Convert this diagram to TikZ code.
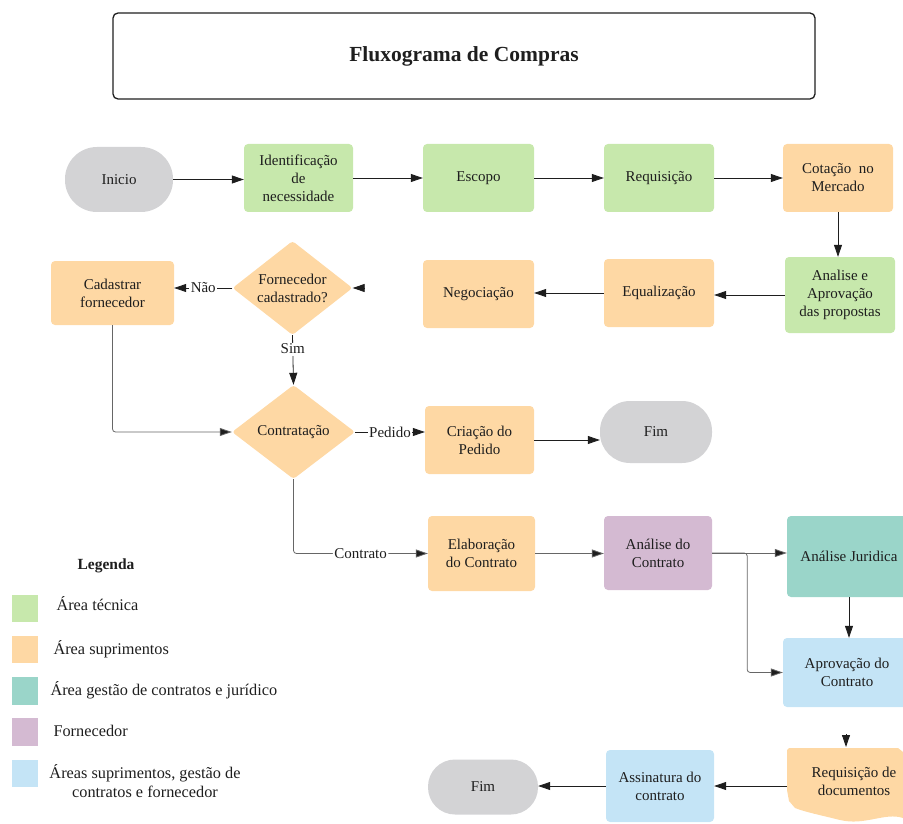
\documentclass[tikz,border=0pt]{standalone}
\usepackage{fontspec}
\setmainfont{Liberation Serif}
\usetikzlibrary{shapes.geometric,arrows.meta}
\definecolor{cgray}{RGB}{211,211,213}
\definecolor{cgreen}{RGB}{199,232,172}
\definecolor{corange}{RGB}{254,216,164}
\definecolor{cteal}{RGB}{154,213,201}
\definecolor{cpurple}{RGB}{212,186,210}
\definecolor{cblue}{RGB}{196,228,246}
\definecolor{cline}{RGB}{30,30,30}
\definecolor{ctext}{RGB}{30,30,30}
\begin{document}
\begin{tikzpicture}[x=1pt,y=-1pt,
  txt/.style={font=\fontsize{15}{18}\selectfont, text=ctext},
  box/.style={txt, rounded corners=4pt, align=center, inner sep=0pt},
  term/.style={box, fill=cgray},
  dia/.style={txt, diamond, fill=corange, aspect=1.28, inner sep=0pt, align=center, rounded corners=3pt},
  arr/.style={-{Triangle[length=12pt,width=8pt]}, line width=0.8pt, draw=cline},
  garr/.style={arr, draw=black!60, -{Triangle[length=12pt,width=8pt,fill=cline]}},
  lbl/.style={txt, fill=white, inner sep=1.5pt},
  legtxt/.style={font=\fontsize{16.3}{19.5}\selectfont, text=ctext, anchor=west, align=center}
]
\useasboundingbox (0,0) rectangle (903,824);
\clip (0,0) rectangle (903,824);

% title
\node[draw=cline, line width=1.3pt, rounded corners=5pt, minimum width=702pt, minimum height=86pt,
      font=\fontsize{21.5}{26}\selectfont\bfseries, text=ctext] (title) at (464,56) {Fluxograma de Compras};

% row 1
\node[term, rounded corners=32pt, minimum width=108pt, minimum height=65pt] (inicio) at (119,179.5) {Inicio};
\node[box, fill=cgreen, minimum width=109pt, minimum height=68pt] (ident) at (298.5,178) {Identificação\\de\\necessidade};
\node[box, fill=cgreen, minimum width=111pt, minimum height=68pt] (escopo) at (478.5,178) {Escopo};
\node[box, fill=cgreen, minimum width=110pt, minimum height=68pt] (req) at (659,178) {Requisição};
\node[box, fill=corange, minimum width=110pt, minimum height=68pt] (cot) at (838,178) {Cotação\ \ no\\Mercado};

% row 2
\node[box, fill=cgreen, minimum width=110pt, minimum height=76pt] (analise) at (840,295) {Analise e\\Aprovação\\das propostas};
\node[box, fill=corange, minimum width=110pt, minimum height=68pt] (equal) at (659,293) {Equalização};
\node[box, fill=corange, minimum width=111pt, minimum height=68pt] (neg) at (478.5,294) {Negociação};
\node[dia, minimum width=120pt, minimum height=94pt] (forn) at (292.5,288) {Fornecedor\\cadastrado?};
\node[box, fill=corange, minimum width=123pt, minimum height=64pt] (cad) at (112.5,293) {Cadastrar\\fornecedor};
\coordinate (fornin) at (364,288);

% row 3
\node[dia, minimum width=123pt, minimum height=94pt] (contr) at (293.5,432) {Contratação};
\node[box, fill=corange, minimum width=109pt, minimum height=68pt] (pedido) at (479.5,440) {Criação do\\Pedido};
\node[term, rounded corners=30pt, minimum width=112pt, minimum height=62pt] (fim1) at (656,432) {Fim};

% row 4
\node[box, fill=corange, minimum width=107pt, minimum height=75pt] (elab) at (481.5,553.5) {Elaboração\\do Contrato};
\node[box, fill=cpurple, minimum width=108pt, minimum height=74pt] (analcon) at (658,553) {Análise do\\Contrato};
\node[box, fill=cteal, minimum width=124pt, minimum height=81pt] (jur) at (849,556.5) {Análise Juridica};
\node[box, fill=cblue, minimum width=128pt, minimum height=69pt] (aprov) at (847,672.5) {Aprovação do\\Contrato};

% row 5
\fill[corange] (789,748) -- (898,748) -- (903,752) -- (903,818)
  .. controls (885,812) and (865,826) .. (840,820)
  .. controls (820,815) and (805,812) .. (795,808) -- (789,801) -- (787,790) -- (787,750) -- cycle;
\node[txt, align=center] (reqdoc) at (854,781) {Requisição de\\documentos};
\coordinate (reqdocw) at (787,786);
\coordinate (reqin) at (846,734);
\coordinate (reqtop) at (846,747);
\node[box, fill=cblue, minimum width=108pt, minimum height=72pt] (assin) at (660,786) {Assinatura do\\contrato};
\node[term, rounded corners=27pt, minimum width=110pt, minimum height=55pt] (fim2) at (483,787) {Fim};

% connectors
\draw[arr] (inicio.east) -- (inicio.east -| ident.west);
\draw[arr] (ident) -- (escopo);
\draw[arr] (escopo) -- (req);
\draw[arr] (req) -- (cot);
\draw[arr] (cot.south) -- (cot.south |- analise.north);
\draw[arr] (analise.west) -- (analise.west -| equal.east);
\draw[arr] (equal.west) -- (equal.west -| neg.east);
\draw[arr] (fornin) -- (forn.east);
\draw[arr] (forn.west) -- node[lbl] {Não} (forn.west -| cad.east);
\draw[arr] (forn.south) -- node[lbl, pos=0.28] {Sim} (contr.north);
\draw[garr, rounded corners=3pt] (cad.south) |- (contr.west);
\draw[arr] (contr.east) -- node[lbl] {Pedido} (contr.east -| pedido.west);
\draw[arr] (pedido.east) -- (pedido.east -| fim1.west);
\draw[garr, rounded corners=3pt] (contr.south) |- node[lbl, pos=0.75] {Contrato} (elab.west);
\draw[garr] (elab.east) -- (elab.east -| analcon.west);
\draw[garr] (analcon.east) -- (analcon.east -| jur.west);
\draw[garr, rounded corners=3pt] (analcon.east) -- ++(35,0) |- (aprov.west);
\draw[arr] (jur.south) -- (jur.south |- aprov.north);
\draw[arr] (reqin) -- (reqtop);
\draw[arr] (reqdocw) -- (reqdocw -| assin.east);
\draw[arr] (assin.west) -- (assin.west -| fim2.east);

% legend
\node[font=\fontsize{15.5}{18}\selectfont\bfseries, text=ctext] (leg) at (106,566) {Legenda};
\fill[cgreen] (12,595) rectangle (38,622);
\fill[corange] (12,636) rectangle (38,663);
\fill[cteal] (12,677) rectangle (38,705);
\fill[cpurple] (12,718) rectangle (38,746);
\fill[cblue] (12,760) rectangle (38,787);
\node[legtxt] (l1) at (53,604) {Área técnica};
\node[legtxt] (l2) at (50,649) {Área suprimentos};
\node[legtxt] (l3) at (47,690) {Área gestão de contratos e jurídico};
\node[legtxt] (l4) at (50,731) {Fornecedor};
\node[font=\fontsize{16.3}{19}\selectfont, text=ctext, align=center] (l5) at (145,781) {Áreas suprimentos, gestão de\\contratos e fornecedor};
\end{tikzpicture}
\end{document}
